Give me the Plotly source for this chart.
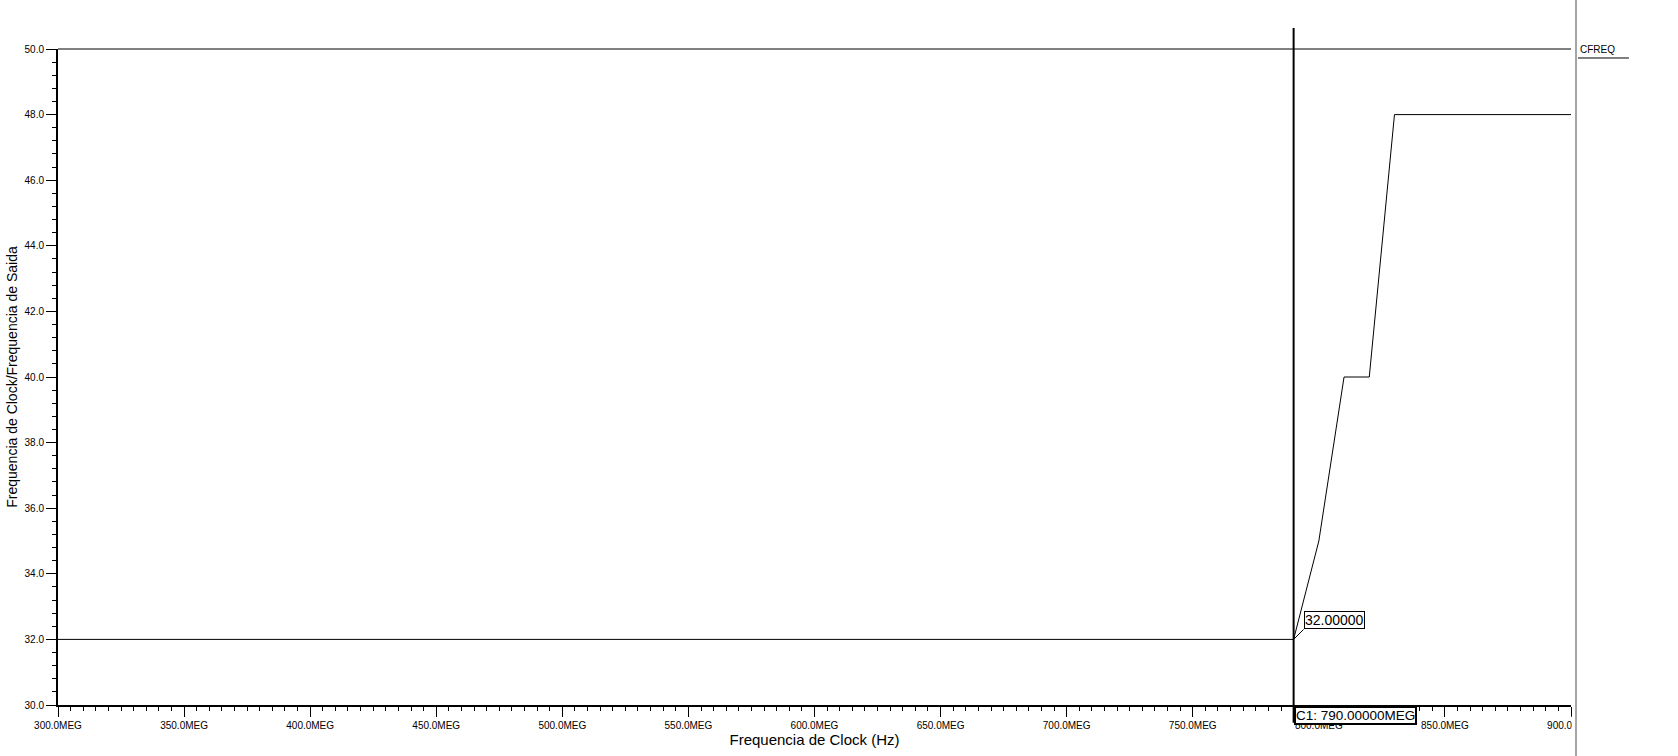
import plotly.graph_objects as go

# ---- data ----
clock_mhz = [300, 790, 795, 800, 810, 820, 830, 900]
ratio = [32.0, 32.0, 33.5, 35.0, 40.0, 40.0, 48.0, 48.0]

x_tick_vals = [300, 350, 400, 450, 500, 550, 600, 650, 700, 750, 800, 850, 900]
x_tick_labels = ["300.0MEG", "350.0MEG", "400.0MEG", "450.0MEG", "500.0MEG", "550.0MEG",
                 "600.0MEG", "650.0MEG", "700.0MEG", "750.0MEG", "800.0MEG", "850.0MEG", "900.0MEG"]
x_mid_ticks = [325, 375, 425, 475, 525, 575, 625, 675, 725, 775, 825, 875]
y_tick_vals = [30, 32, 34, 36, 38, 40, 42, 44, 46, 48, 50]
y_tick_labels = ["30.0", "32.0", "34.0", "36.0", "38.0", "40.0", "42.0", "44.0", "46.0", "48.0", "50.0"]

cursor_x = 790
cursor_y = 32.0
cursor_label = "C1: 790.00000MEG"
marker_label = "32.00000"
series_name = "CFREQ"

FONT = "Liberation Sans"

fig = go.Figure()
fig.add_trace(go.Scatter(
    x=clock_mhz, y=ratio, mode="lines", name=series_name,
    line=dict(color="black", width=1), hoverinfo="skip", showlegend=False,
))

fig.update_layout(
    width=1678, height=756,
    margin=dict(l=58, r=107, t=49, b=51),
    plot_bgcolor="white", paper_bgcolor="white",
    showlegend=False,
    font=dict(family=FONT, color="black"),
    xaxis=dict(
        range=[300, 900], showline=True, linewidth=2, linecolor="black",
        ticks="outside", ticklen=10, tickwidth=1, tickcolor="black",
        tickmode="array", tickvals=x_tick_vals, ticktext=x_tick_labels,
        tickfont=dict(size=10, family=FONT, color="black"),
        minor=dict(tickmode="linear", tick0=300, dtick=5, ticks="outside",
                   ticklen=4, tickwidth=1, tickcolor="black", showgrid=False),
        showgrid=False, zeroline=False,
        title=dict(text="Frequencia de Clock (Hz)", font=dict(size=15, family=FONT), standoff=1),
    ),
    xaxis2=dict(
        range=[300, 900], overlaying="x", anchor="y", side="bottom",
        showline=False, ticks="outside", ticklen=6, tickwidth=1, tickcolor="black",
        tickmode="array", tickvals=x_mid_ticks, showticklabels=False,
        showgrid=False, zeroline=False,
    ),
    yaxis=dict(
        range=[30, 50], showline=True, linewidth=2, linecolor="black",
        ticks="outside", ticklen=10, tickwidth=1, tickcolor="black",
        tickmode="array", tickvals=y_tick_vals, ticktext=y_tick_labels,
        tickfont=dict(size=10, family=FONT, color="black"),
        minor=dict(tickmode="linear", tick0=30, dtick=0.4, ticks="outside",
                   ticklen=4, tickwidth=1, tickcolor="black", showgrid=False),
        showgrid=False, zeroline=False,
        title=dict(text="Frequencia de Clock/Frequencia de Saida", font=dict(size=14, family=FONT), standoff=4),
    ),
)

# top border line at y = 50
fig.add_shape(type="line", xref="paper", yref="paper", x0=0, x1=1, y0=1, y1=1,
              line=dict(color="black", width=1), layer="above")
# white mask clipping the last tick label at panel edge
fig.add_shape(type="rect", xref="paper", yref="paper", x0=1.0005, x1=1.08, y0=-0.08, y1=-0.0165,
              line=dict(width=0), fillcolor="white", layer="above")
# gray panel separator
fig.add_shape(type="line", xref="paper", yref="paper", x0=1.0033, x1=1.0033, y0=-0.08, y1=1.08,
              line=dict(color="#a6a6a6", width=2), layer="above")
# cursor line
fig.add_shape(type="line", xref="x", yref="paper", x0=cursor_x, x1=cursor_x, y0=-0.027, y1=1.032,
              line=dict(color="black", width=2), layer="above")
# legend underline
fig.add_shape(type="line", xref="paper", yref="paper", x0=1.0046, x1=1.0383, y0=0.9863, y1=0.9863,
              line=dict(color="black", width=1), layer="above")

# legend text
fig.add_annotation(text=series_name, xref="paper", yref="paper", x=1.0046, y=0.9878,
                   xanchor="left", yanchor="bottom", showarrow=False,
                   font=dict(size=10, family=FONT, color="black"))
# cursor x label box
fig.add_annotation(text=cursor_label, xref="x", yref="paper", x=cursor_x, y=-0.002,
                   xanchor="left", yanchor="top", showarrow=False,
                   font=dict(size=13.5, family=FONT, color="black"),
                   bgcolor="white", bordercolor="black", borderwidth=2, borderpad=0)
# value marker box
fig.add_annotation(text=marker_label, xref="x", yref="y", x=cursor_x, y=cursor_y,
                   ax=10, ay=-10, xanchor="left", yanchor="bottom", showarrow=True,
                   arrowhead=0, arrowwidth=1, arrowcolor="black", standoff=0,
                   font=dict(size=14, family=FONT, color="black"),
                   bgcolor="white", bordercolor="black", borderwidth=1, borderpad=0)

fig.write_html("out.html")
